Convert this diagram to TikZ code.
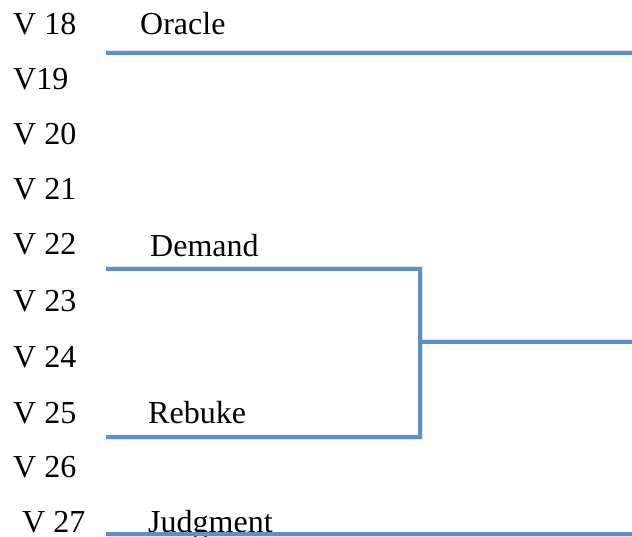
\documentclass[tikz,border=0pt]{standalone}
\usepackage{fontspec}
\setmainfont{Liberation Serif}
\definecolor{bracketblue}{RGB}{92,144,200}
\tikzset{
  lbl/.style={anchor=base west, inner sep=0pt, font=\fontsize{32}{32}\selectfont},
  brk/.style={draw=bracketblue, line width=4pt, line cap=rect},
  shd/.style={draw=black!40, line width=5pt, opacity=0.25, line cap=rect},
}
\begin{document}
\begin{tikzpicture}[x=1pt,y=-1pt]
\useasboundingbox (0,0) rectangle (632,537);
% verse labels
\node[lbl] (v18) at (13,35) {V 18};
\node[lbl] (v19) at (13,90) {V19};
\node[lbl] (v20) at (13,145) {V 20};
\node[lbl] (v21) at (13,200) {V 21};
\node[lbl] (v22) at (13,255) {V 22};
\node[lbl] (v23) at (13,312) {V 23};
\node[lbl] (v24) at (13,367) {V 24};
\node[lbl] (v25) at (13,423) {V 25};
\node[lbl] (v26) at (13,477) {V 26};
\node[lbl] (v27) at (22,532) {V 27};
% section labels
\node[lbl] (oracle) at (140,35) {Oracle};
\node[lbl] (demand) at (150,257) {Demand};
\node[lbl] (rebuke) at (148,423) {Rebuke};
\node[lbl] (judgment) at (148,532) {Judgment};
% bracket coordinates
\coordinate (oL) at (108,53);
\coordinate (oR) at (634,53);
\coordinate (dL) at (108,269);
\coordinate (dR) at (420,269);
\coordinate (rL) at (108,437);
\coordinate (rR) at (420,437);
\coordinate (mL) at (420,342);
\coordinate (mR) at (634,342);
\coordinate (jL) at (108,534);
\coordinate (jR) at (634,534);
% shadows
\begin{scope}[shift={(2,3)}]
\draw[shd] (oL) -- (oR);
\draw[shd] (dL) -- (dR) -- (rR) -- (rL);
\draw[shd] (mL) -- (mR);
\draw[shd] (jL) -- (jR);
\end{scope}
% brackets
\draw[brk] (oL) -- (oR) -- (jR);
\draw[brk] (dL) -- (dR) -- (rR) -- (rL);
\draw[brk] (mL) -- (mR);
\draw[brk] (jL) -- (jR);
\end{tikzpicture}
\end{document}
